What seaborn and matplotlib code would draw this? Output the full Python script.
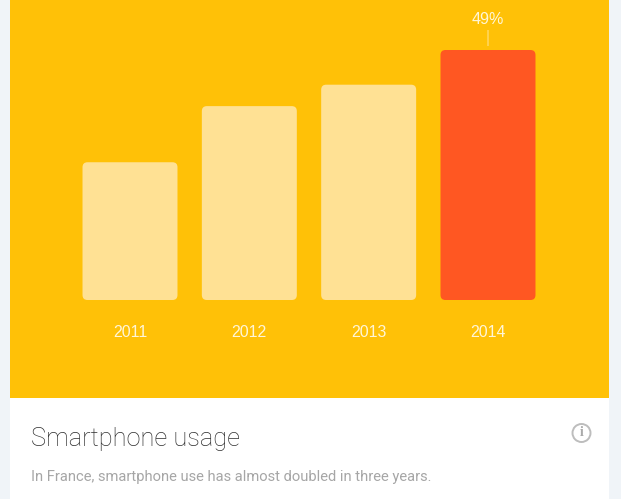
import matplotlib
matplotlib.use("Agg")
import matplotlib.pyplot as plt
import seaborn as sns
import pandas as pd
from matplotlib.patches import FancyBboxPatch, Ellipse, Rectangle

years = ["2011", "2012", "2013", "2014"]
usage = [27, 38, 42.2, 49]
highlight_label = "49%"
title = "Smartphone usage"
subtitle = "In France, smartphone use has almost doubled in three years."

PALE = "#FFE194"
HOT = "#FF5722"
AMBER = "#FFC107"
W, H = 621, 499

sns.set_theme(style="white")
plt.rcParams["font.family"] = ["Roboto", "DejaVu Sans"]

fig = plt.figure(figsize=(W / 100, H / 100), dpi=100, facecolor="#F0F4F8")
fig.add_artist(Rectangle((10 / W, 0), 599 / W, 1, transform=fig.transFigure,
                         facecolor="white", edgecolor="none", zorder=-1))
ax = fig.add_axes([10 / W, (H - 398) / H, 599 / W, 398 / H], facecolor=AMBER)

df = pd.DataFrame({"year": years, "usage": usage})
sns.barplot(data=df, x="year", y="usage", hue="year", legend=False,
            palette=[PALE, PALE, PALE, HOT], width=0.796, ax=ax, saturation=1)

px_x = 119.33
px_y = 250 / usage[-1]
ax.set_xlim(-120 / px_x, 479 / px_x)
ax.set_ylim(-98 / px_y, 300 / px_y)

# round the bars' corners, keeping the geometry seaborn computed
radius = 5
for bar in list(ax.patches):
    box = FancyBboxPatch((bar.get_x(), bar.get_y()), bar.get_width(), bar.get_height(),
                         boxstyle=f"round,pad=0,rounding_size={radius / px_x}",
                         mutation_aspect=(radius / px_y) / (radius / px_x),
                         facecolor=bar.get_facecolor(), edgecolor="none")
    ax.add_patch(box)
    bar.set_visible(False)

for s in ax.spines.values():
    s.set_visible(False)
ax.spines["bottom"].set_position(("data", 0))
ax.set_xlabel("")
ax.set_ylabel("")
ax.set_yticks([])
ax.tick_params(axis="x", length=0, pad=18, labelsize=11.4, labelcolor="#FFF6D8")
for lab in ax.get_xticklabels():
    lab.set_family("Liberation Sans")

# callout on last bar
ax.plot([3, 3], [usage[-1] + 4 / px_y, usage[-1] + 20 / px_y], color="#FFD65C", lw=1.2, solid_capstyle="butt")
ax.annotate(highlight_label, xy=(3, usage[-1]), xytext=(0, 30.5), textcoords="offset pixels",
            ha="center", va="center", fontsize=11.6, color="#FFF6D8", family="Liberation Sans")

fig.text(31 / W, 1 - 439 / H, title, fontsize=18.3, fontweight="light", color="#2E2E2E",
         va="center", ha="left")
fig.text(31 / W, 1 - 477.5 / H, subtitle, fontsize=10.6, color="#A6A6A6", va="center", ha="left")

fig.add_artist(Ellipse((581.5 / W, 1 - 433 / H), 18 / W, 18 / H, transform=fig.transFigure,
                       facecolor="none", edgecolor="#BDBDBD", lw=1.4))
fig.text(581.5 / W, 1 - 433 / H, "i", fontsize=10, color="#AAAAAA", ha="center", va="center",
         family="Liberation Serif", fontweight="bold")

fig.savefig("out.png", dpi=100, facecolor=fig.get_facecolor())
